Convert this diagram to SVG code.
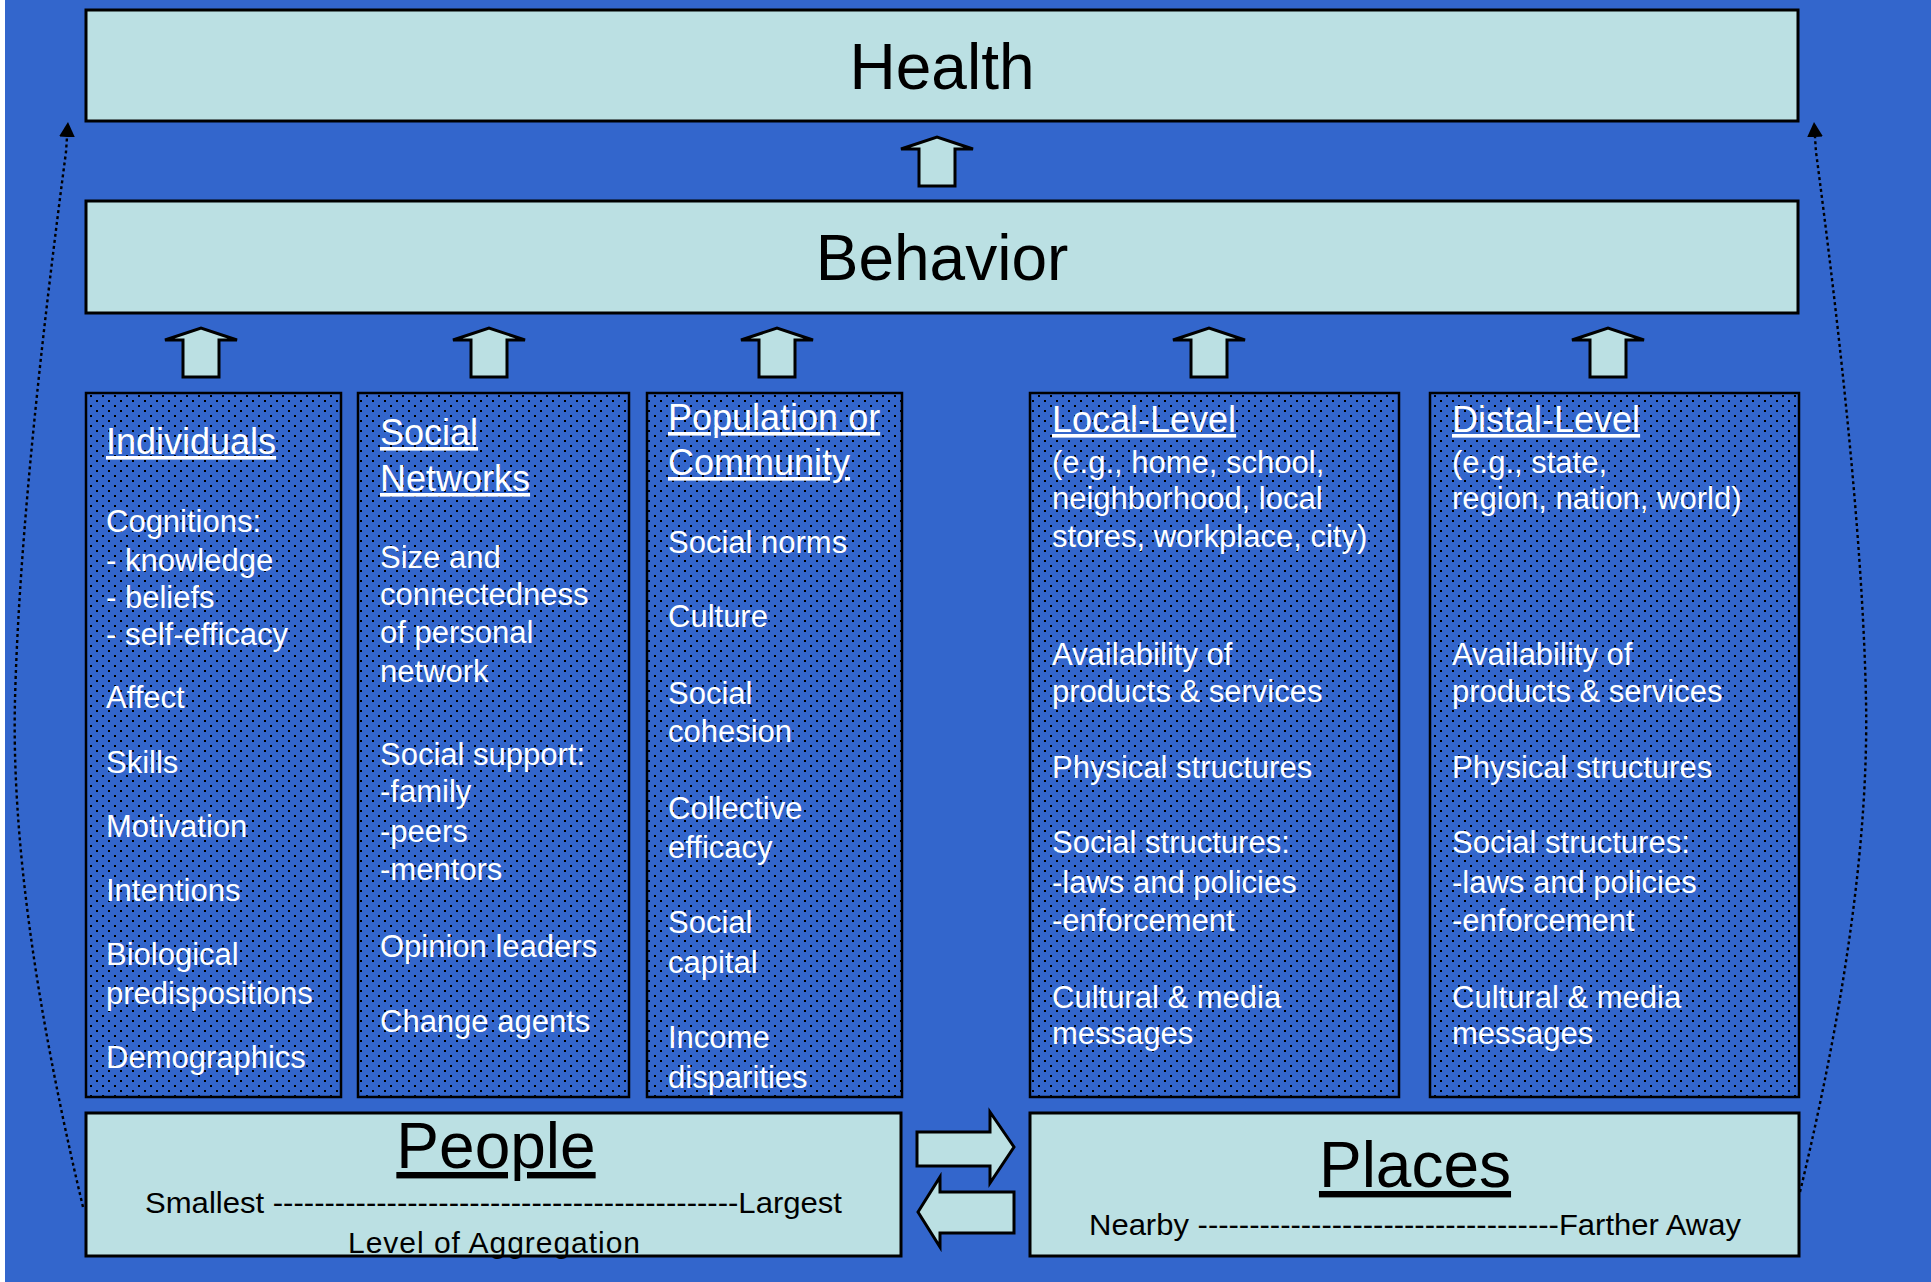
<svg xmlns="http://www.w3.org/2000/svg" xmlns:xlink="http://www.w3.org/1999/xlink" width="1931" height="1282" viewBox="0 0 1931 1282">
<style>
.box{fill:#BBE0E3;stroke:#000;stroke-width:3}
.col{fill:url(#dots);stroke:#000;stroke-width:2.5}
.big{font-family:"Liberation Sans",Arial,sans-serif;font-size:64px;fill:#000;text-anchor:middle}
.hd{font-family:"Liberation Sans",Arial,sans-serif;font-size:36px;fill:#fff;text-decoration:underline}
.bd{font-family:"Liberation Sans",Arial,sans-serif;font-size:31px;fill:#fff}
.sm{font-family:"Liberation Sans",Arial,sans-serif;font-size:30px;fill:#000}
.arr{fill:#BBE0E3;stroke:#000;stroke-width:3;stroke-linejoin:miter}
.dot{fill:none;stroke:#000;stroke-width:2.4;stroke-dasharray:3 3}
</style>
<defs>
<pattern id="dots" width="12" height="10" patternUnits="userSpaceOnUse">
<rect width="12" height="10" fill="#3366CC"/>
<rect x="0" y="0" width="2" height="2" fill="#000"/>
<rect x="6" y="5" width="2" height="2" fill="#000"/>
</pattern>
<path id="up" d="M-36,12 L0,0 L36,12 L18,12 L18,49 L-18,49 L-18,12 Z"/>
<marker id="tip" viewBox="0 0 15 16" refX="0" refY="8" markerWidth="15" markerHeight="16" markerUnits="userSpaceOnUse" orient="auto">
<path d="M0,0 L15,8 L0,16 Z" fill="#000"/>
</marker>
</defs>
<rect width="1931" height="1282" fill="#3366CC"/>
<rect width="5" height="1282" fill="#fff"/>

<g id="health">
<rect class="box" x="86" y="10" width="1712" height="111"/>
<text class="big" x="942" y="89">Health</text>
</g>
<g id="behavior">
<rect class="box" x="86" y="201" width="1712" height="112"/>
<text class="big" x="942" y="280">Behavior</text>
</g>

<g id="individuals">
<rect class="col" x="86" y="393" width="255" height="704"/>
<text class="hd" x="106" y="454">Individuals</text>
<text class="bd" x="106" y="532">Cognitions:</text>
<text class="bd" x="106" y="571">- knowledge</text>
<text class="bd" x="106" y="608">- beliefs</text>
<text class="bd" x="106" y="645">- self-efficacy</text>
<text class="bd" x="106" y="708">Affect</text>
<text class="bd" x="106" y="773">Skills</text>
<text class="bd" x="106" y="837">Motivation</text>
<text class="bd" x="106" y="901">Intentions</text>
<text class="bd" x="106" y="965">Biological</text>
<text class="bd" x="106" y="1004">predispositions</text>
<text class="bd" x="106" y="1068">Demographics</text>
</g>

<g id="social-networks">
<rect class="col" x="358" y="393" width="271" height="704"/>
<text class="hd" x="380" y="445">Social</text>
<text class="hd" x="380" y="491">Networks</text>
<text class="bd" x="380" y="568">Size and</text>
<text class="bd" x="380" y="605">connectedness</text>
<text class="bd" x="380" y="643">of personal</text>
<text class="bd" x="380" y="682">network</text>
<text class="bd" x="380" y="765">Social support:</text>
<text class="bd" x="380" y="802">-family</text>
<text class="bd" x="380" y="842">-peers</text>
<text class="bd" x="380" y="880">-mentors</text>
<text class="bd" x="380" y="957">Opinion leaders</text>
<text class="bd" x="380" y="1032">Change agents</text>
</g>

<g id="population">
<rect class="col" x="647" y="393" width="255" height="704"/>
<text class="hd" x="668" y="430">Population or</text>
<text class="hd" x="668" y="475">Community</text>
<text class="bd" x="668" y="553">Social norms</text>
<text class="bd" x="668" y="627">Culture</text>
<text class="bd" x="668" y="704">Social</text>
<text class="bd" x="668" y="742">cohesion</text>
<text class="bd" x="668" y="819">Collective</text>
<text class="bd" x="668" y="858">efficacy</text>
<text class="bd" x="668" y="933">Social</text>
<text class="bd" x="668" y="973">capital</text>
<text class="bd" x="668" y="1048">Income</text>
<text class="bd" x="668" y="1088">disparities</text>
</g>

<g id="local-level">
<rect class="col" x="1030" y="393" width="369" height="704"/>
<text class="hd" x="1052" y="432">Local-Level</text>
<text class="bd" x="1052" y="473">(e.g., home, school,</text>
<text class="bd" x="1052" y="509">neighborhood, local</text>
<text class="bd" x="1052" y="547">stores, workplace, city)</text>
<text class="bd" x="1052" y="665">Availability of</text>
<text class="bd" x="1052" y="702">products &amp; services</text>
<text class="bd" x="1052" y="778">Physical structures</text>
<text class="bd" x="1052" y="853">Social structures:</text>
<text class="bd" x="1052" y="893">-laws and policies</text>
<text class="bd" x="1052" y="931">-enforcement</text>
<text class="bd" x="1052" y="1008">Cultural &amp; media</text>
<text class="bd" x="1052" y="1044">messages</text>
</g>

<g id="distal-level">
<rect class="col" x="1430" y="393" width="369" height="704"/>
<text class="hd" x="1452" y="432">Distal-Level</text>
<text class="bd" x="1452" y="473">(e.g., state,</text>
<text class="bd" x="1452" y="509">region, nation, world)</text>
<text class="bd" x="1452" y="665">Availability of</text>
<text class="bd" x="1452" y="702">products &amp; services</text>
<text class="bd" x="1452" y="778">Physical structures</text>
<text class="bd" x="1452" y="853">Social structures:</text>
<text class="bd" x="1452" y="893">-laws and policies</text>
<text class="bd" x="1452" y="931">-enforcement</text>
<text class="bd" x="1452" y="1008">Cultural &amp; media</text>
<text class="bd" x="1452" y="1044">messages</text>
</g>

<g id="people">
<rect class="box" x="86" y="1113" width="815" height="143"/>
<text class="big" x="496" y="1168" text-decoration="underline">People</text>
<text class="sm" x="145" y="1213" textLength="697" lengthAdjust="spacingAndGlyphs">Smallest ---------------------------------------------Largest</text>
<text class="sm" x="348" y="1253" textLength="292" lengthAdjust="spacing">Level of Aggregation</text>
</g>

<g id="places">
<rect class="box" x="1030" y="1113" width="769" height="143"/>
<text class="big" x="1415" y="1187" text-decoration="underline">Places</text>
<text class="sm" x="1089" y="1235" textLength="652" lengthAdjust="spacingAndGlyphs">Nearby -----------------------------------Farther Away</text>
</g>

<g id="connectors">
<use xlink:href="#up" class="arr" transform="translate(937,137)"/>
<use xlink:href="#up" class="arr" transform="translate(201,328)"/>
<use xlink:href="#up" class="arr" transform="translate(489,328)"/>
<use xlink:href="#up" class="arr" transform="translate(777,328)"/>
<use xlink:href="#up" class="arr" transform="translate(1209,328)"/>
<use xlink:href="#up" class="arr" transform="translate(1608,328)"/>
<path class="arr" d="M917,1132 L990,1132 L990,1112 L1014,1147 L990,1183 L990,1166 L917,1166 Z"/>
<path class="arr" d="M918,1212 L940,1177 L940,1192 L1014,1192 L1014,1233 L940,1233 L940,1247 Z"/>
<path class="dot" marker-end="url(#tip)" d="M83,1207 Q10,900 15,700 T66,152 L67,137"/>
<path class="dot" marker-end="url(#tip)" d="M1800,1192 Q1870,900 1866,700 T1816,152 L1815,137"/>
</g>
</svg>
